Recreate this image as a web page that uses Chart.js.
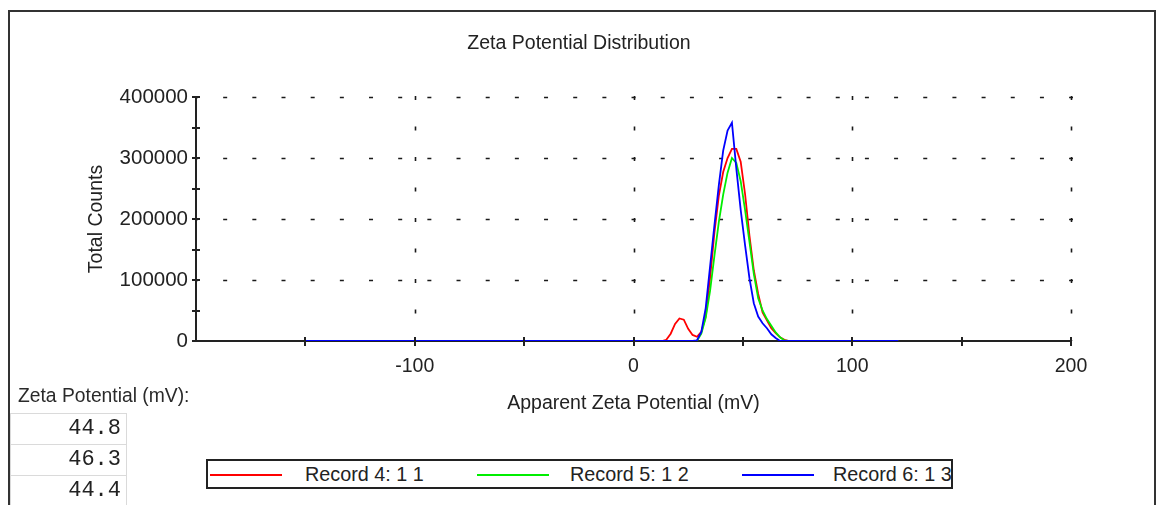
<!DOCTYPE html>
<html>
<head>
<meta charset="utf-8">
<script src="https://cdn.jsdelivr.net/npm/chart.js@4.4.0/dist/chart.umd.min.js"></script>
<style>
html,body{margin:0;padding:0;background:#fff;width:1158px;height:505px;overflow:hidden;font-family:"Liberation Sans",Arial,sans-serif;color:#222}
#frame{position:absolute;left:8px;top:10px;width:1148px;height:600px;border:2px solid #333;box-sizing:border-box}
#wrap{position:absolute;left:0;top:0;width:1158px;height:430px}
#zlabel{position:absolute;left:18px;top:384px;font-size:19.3px;line-height:24px;white-space:nowrap;color:#2a2a2a}
#table{position:absolute;left:10px;top:413px;width:117px;border-collapse:collapse}
#table td{border:1px solid #dadada;height:30px;padding:0 5px 0 0;text-align:right;font-family:"Liberation Mono","DejaVu Sans Mono",monospace;font-size:22px;color:#222;line-height:30px}
#legend{position:absolute;left:206px;top:459px;width:747px;height:30px;border:2px solid #222;box-sizing:border-box}
.sw{position:absolute;top:13px;width:72px;height:0;border-top:2px solid}
.lt{position:absolute;top:1px;font-size:19.8px;line-height:24px;white-space:nowrap}
</style>
</head>
<body>
<div id="frame"></div>
<div id="wrap"><canvas id="c" width="1158" height="430"></canvas></div>
<div id="zlabel">Zeta Potential (mV):</div>
<table id="table"><tbody id="tbody"></tbody></table>
<div id="legend"></div>
<script>
// ---- data ----
const zetaMV = [-150, 13, 15, 17, 19, 21, 23, 25, 27, 29, 31, 33, 35, 37, 39, 41, 43, 45, 47, 49, 51, 53, 55, 57, 59, 61, 63, 65, 67, 69, 71, 121];
const record4 = [0, 0, 2000, 12000, 28000, 37000, 35000, 20000, 10000, 7000, 15000, 40000, 103000, 178000, 238000, 277000, 300000, 315000, 315000, 294000, 241000, 173000, 116000, 77000, 47000, 34000, 21000, 13000, 6000, 2000, 0, 0];
const record5 = [0, 0, 0, 0, 0, 0, 0, 0, 0, 0, 12000, 38000, 82000, 140000, 195000, 240000, 276000, 300000, 292000, 262000, 215000, 163000, 110000, 70000, 50000, 36000, 25000, 14000, 6000, 1000, 0, 0];
const record6 = [0, 0, 0, 0, 0, 0, 0, 0, 0, 1000, 15000, 54000, 122000, 190000, 255000, 312000, 345000, 358000, 283000, 215000, 157000, 103000, 62000, 40000, 29000, 21000, 11000, 5000, 0, 0, 0, 0];
const seriesNames = ["Record 4: 1 1", "Record 5: 1 2", "Record 6: 1 3"];
const seriesColors = ["#ff0000", "#00ee00", "#0000ff"];
const xTickValues = [-100, 0, 100, 200];
const yTickValues = [0, 100000, 200000, 300000, 400000];
const zetaResults = ["44.8", "46.3", "44.4"];

const FONT = '"Liberation Sans", Arial, sans-serif';
const toPts = (ys) => zetaMV.map((x, i) => ({x: x, y: ys[i]}));

const gridPlugin = {
  id: 'zetaGrid',
  beforeDatasetsDraw(chart) {
    const ctx = chart.ctx, xs = chart.scales.x, ys = chart.scales.y, a = chart.chartArea;
    ctx.save();
    ctx.strokeStyle = '#1a1a1a';
    ctx.lineWidth = 1.6;
    ctx.setLineDash([4, 25.17]);
    ctx.lineDashOffset = 2;
    yTickValues.forEach(v => {
      if (v === 0) return;
      const y = Math.round(ys.getPixelForValue(v)) + 0.5;
      ctx.beginPath(); ctx.moveTo(a.left, y); ctx.lineTo(a.right + 2, y); ctx.stroke();
    });
    ctx.setLineDash([4, 26.5]);
    ctx.lineDashOffset = 0;
    xTickValues.forEach(v => {
      const x = Math.round(xs.getPixelForValue(v)) + 0.5;
      ctx.beginPath(); ctx.moveTo(x, a.top - 1); ctx.lineTo(x, a.bottom); ctx.stroke();
    });
    ctx.setLineDash([]);
    ctx.strokeStyle = '#222';
    ctx.lineWidth = 2;
    ctx.beginPath();
    ctx.moveTo(a.left, a.top); ctx.lineTo(a.left, a.bottom); ctx.lineTo(a.right, a.bottom);
    ctx.stroke();
    ctx.restore();
  },
  afterDatasetsDraw(chart) {
    const ctx = chart.ctx, xs = chart.scales.x, ys = chart.scales.y, a = chart.chartArea;
    ctx.save();
    ctx.strokeStyle = '#222';
    ctx.lineWidth = 2;
    for (let v = 0; v <= 400000; v += 50000) {
      const y = Math.round(ys.getPixelForValue(v));
      ctx.beginPath(); ctx.moveTo(a.left - 4, y); ctx.lineTo(a.left + 4, y); ctx.stroke();
    }
    for (let v = -150; v <= 200; v += 50) {
      const x = Math.round(xs.getPixelForValue(v));
      ctx.beginPath(); ctx.moveTo(x, a.bottom - 4); ctx.lineTo(x, a.bottom + 5); ctx.stroke();
    }
    ctx.restore();
  }
};

new Chart(document.getElementById('c'), {
  type: 'line',
  data: {
    datasets: [record4, record5, record6].map((ys, i) => ({
      label: seriesNames[i],
      data: toPts(ys),
      borderColor: seriesColors[i],
      backgroundColor: seriesColors[i],
      borderWidth: 1.8,
      pointRadius: 0,
      tension: 0,
      fill: false,
      order: 3 - i
    }))
  },
  options: {
    responsive: false,
    animation: false,
    devicePixelRatio: 1,
    layout: {padding: {top: 0, left: 0, right: 0, bottom: 0}},
    plugins: {
      legend: {display: false},
      tooltip: {enabled: false},
      title: {
        display: true,
        text: 'Zeta Potential Distribution',
        color: '#222',
        font: {family: FONT, size: 19.5, weight: 'normal', lineHeight: 1.2},
        padding: {top: 32.3, bottom: 41.3}
      }
    },
    scales: {
      x: {
        type: 'linear',
        min: -200, max: 200,
        afterBuildTicks: (s) => { s.ticks = xTickValues.map(v => ({value: v})); },
        afterFit: (s) => { s.height = 89; },
        grid: {display: false, drawTicks: false},
        border: {display: false},
        ticks: {color: '#222', padding: 14, font: {family: FONT, size: 19.5}, maxRotation: 0, autoSkip: false},
        title: {display: true, text: 'Apparent Zeta Potential (mV)', color: '#222', font: {family: FONT, size: 19.5}, padding: {top: 0, bottom: 14.3}}
      },
      y: {
        type: 'linear',
        min: 0, max: 400000,
        afterBuildTicks: (s) => { s.ticks = yTickValues.map(v => ({value: v})); },
        afterFit: (s) => { s.width = 196; },
        grid: {display: false, drawTicks: false},
        border: {display: false},
        ticks: {color: '#222', padding: 8, font: {family: FONT, size: 20.5}, autoSkip: false, callback: (v) => String(v)},
        title: {display: true, text: 'Total Counts', color: '#222', font: {family: FONT, size: 19.5}, padding: {top: 85.3, bottom: 0}}
      },
      yRight: {
        type: 'linear',
        position: 'right',
        min: 0, max: 1,
        afterFit: (s) => { s.width = 87; },
        grid: {display: false, drawTicks: false},
        border: {display: false},
        ticks: {display: false}
      }
    }
  },
  plugins: [gridPlugin]
});

const tb = document.getElementById('tbody');
zetaResults.forEach(v => {
  const tr = document.createElement('tr');
  const td = document.createElement('td');
  td.textContent = v;
  tr.appendChild(td); tb.appendChild(tr);
});

const lg = document.getElementById('legend');
const swX = [2, 269, 534], txX = [97, 362, 625];
seriesNames.forEach((n, i) => {
  const sw = document.createElement('div');
  sw.className = 'sw'; sw.style.left = swX[i] + 'px'; sw.style.borderTopColor = seriesColors[i];
  const tx = document.createElement('div');
  tx.className = 'lt'; tx.style.left = txX[i] + 'px'; tx.textContent = n;
  lg.appendChild(sw); lg.appendChild(tx);
});
</script>
</body>
</html>
